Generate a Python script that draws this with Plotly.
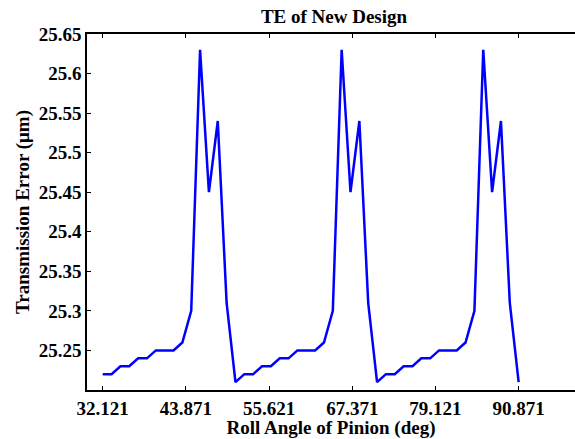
import plotly.graph_objects as go

# Roll angle of pinion (deg), step 1.25 deg
roll_angle = [32.121 + 1.25 * i for i in range(48)]

# Transmission error (um)
te_values = [
    25.22, 25.22, 25.23, 25.23, 25.24, 25.24, 25.25, 25.25,
    25.25, 25.26, 25.30, 25.63, 25.45, 25.54, 25.31, 25.21,
    25.22, 25.22, 25.23, 25.23, 25.24, 25.24, 25.25, 25.25,
    25.25, 25.26, 25.30, 25.63, 25.45, 25.54, 25.31, 25.21,
    25.22, 25.22, 25.23, 25.23, 25.24, 25.24, 25.25, 25.25,
    25.25, 25.26, 25.30, 25.63, 25.45, 25.54, 25.31, 25.21,
]

x_tickvals = [32.121, 43.871, 55.621, 67.371, 79.121, 90.871]
x_ticktext = ["32.121", "43.871", "55.621", "67.371", "79.121", "90.871"]
y_tickvals = [25.25, 25.30, 25.35, 25.40, 25.45, 25.50, 25.55, 25.60, 25.65]
y_ticktext = ["25.25", "25.3", "25.35", "25.4", "25.45", "25.5", "25.55", "25.6", "25.65"]

FONT = "Liberation Serif"
X_RANGE = [29.90, 98.83]

fig = go.Figure()
fig.add_trace(go.Scatter(
    x=roll_angle, y=te_values, mode="lines",
    line=dict(color="#0000FF", width=2.5),
    showlegend=False,
))

fig.update_layout(
    width=575, height=439,
    margin=dict(l=87, r=0, t=34, b=49),
    paper_bgcolor="white", plot_bgcolor="white",
    font=dict(family=FONT, color="black"),
    title=dict(
        text="<b>TE of New Design</b>",
        x=334 / 575, xanchor="center",
        y=1 - 16 / 439, yanchor="middle",
        font=dict(family=FONT, size=19, color="black"),
    ),
)

fig.update_xaxes(
    range=X_RANGE,
    tickvals=x_tickvals, ticktext=["<b>%s</b>" % t for t in x_ticktext],
    tickfont=dict(family=FONT, size=19, color="black"),
    ticks="inside", ticklen=4, tickcolor="black", tickwidth=1,
    showline=True, linecolor="black", linewidth=1.5, mirror="ticks",
    showgrid=False, zeroline=False,
    title=dict(text="<b>Roll Angle of Pinion (deg)</b>",
               font=dict(family=FONT, size=19, color="black"), standoff=1),
)
fig.update_yaxes(
    range=[25.2, 25.65],
    tickvals=y_tickvals, ticktext=["<b>%s</b>" % t for t in y_ticktext],
    tickfont=dict(family=FONT, size=19, color="black"),
    ticks="inside", ticklen=4, tickcolor="black", tickwidth=1,
    showline=True, linecolor="black", linewidth=1.5, mirror=False,
    showgrid=False, zeroline=False,
    title=dict(text="<b>Transmission Error (μm)</b>",
               font=dict(family=FONT, size=19, color="black"), standoff=4),
)

fig.write_html("out.html")
